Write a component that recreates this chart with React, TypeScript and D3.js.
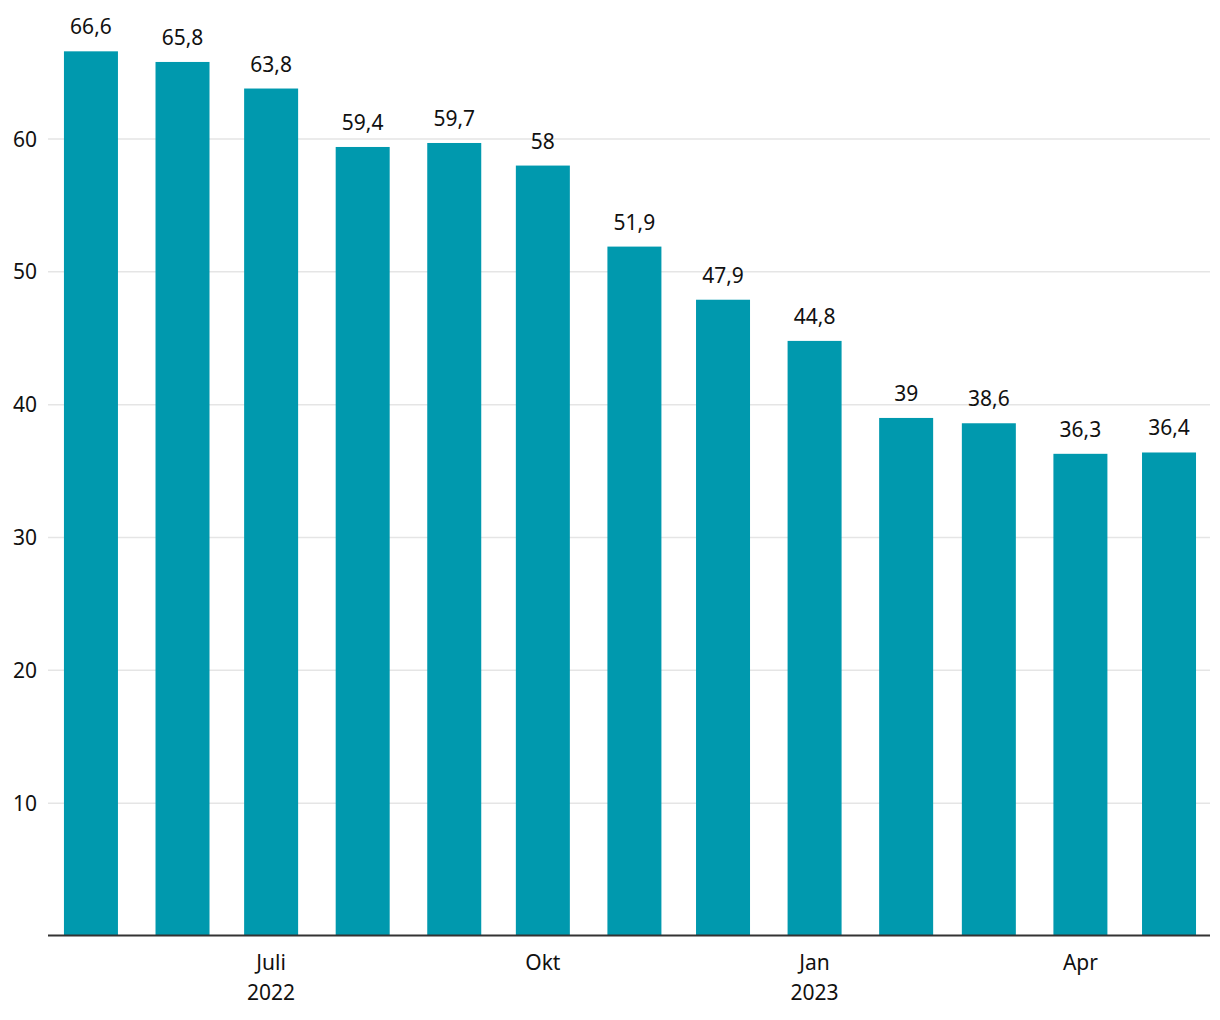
import React from "react";
import * as d3 from "d3";

const months: string[] = [
  "2022-05-01", "2022-06-01", "2022-07-01", "2022-08-01", "2022-09-01", "2022-10-01",
  "2022-11-01", "2022-12-01", "2023-01-01", "2023-02-01", "2023-03-01", "2023-04-01", "2023-05-01",
];
const values: number[] = [66.6, 65.8, 63.8, 59.4, 59.7, 58, 51.9, 47.9, 44.8, 39, 38.6, 36.3, 36.4];
const yTicks: number[] = [10, 20, 30, 40, 50, 60];
const xTicks: { date: string; lines: string[] }[] = [
  { date: "2022-07-01", lines: ["Juli", "2022"] },
  { date: "2022-10-01", lines: ["Okt"] },
  { date: "2023-01-01", lines: ["Jan", "2023"] },
  { date: "2023-04-01", lines: ["Apr"] },
];

const W = 1220;
const H = 1020;
const left = 48;
const right = 1210;
const baseY = 936;
const topY = 139; // y of 60

const font = "'Noto Sans', 'Open Sans', sans-serif";

export default function App() {
  const x = d3
    .scaleUtc()
    .domain([new Date(Date.UTC(2022, 3, 16, 11)), new Date(Date.UTC(2023, 4, 14, 21))])
    .range([left, right]);
  const y = d3.scaleLinear().domain([0, 60]).range([baseY, topY]);
  const barW = 54;
  const fmt = (v: number) => String(v).replace(".", ",");
  const parse = (s: string) => new Date(s + "T00:00:00Z");

  return (
    <svg
      width={W}
      height={H}
      style={{ position: "absolute", left: 0, top: 0, background: "#fff" }}
      fontFamily={font}
    >
      {yTicks.map((t) => (
        <g key={t}>
          <line x1={left} x2={right} y1={y(t)} y2={y(t)} stroke="#e5e5e5" strokeWidth={1.5} />
          <text x={37} y={y(t) + 7.5} textAnchor="end" fontSize={21} fill="#111">
            {t}
          </text>
        </g>
      ))}
      {months.map((m, i) => {
        const cx = x(parse(m));
        return (
          <g key={m}>
            <rect x={cx - barW / 2} y={y(values[i])} width={barW} height={baseY - y(values[i])} fill="#0099ae" />
            <text x={cx} y={y(values[i]) - 17} textAnchor="middle" fontSize={21} fill="#111">
              {fmt(values[i])}
            </text>
          </g>
        );
      })}
      <line x1={left} x2={right} y1={baseY - 0.5} y2={baseY - 0.5} stroke="#333" strokeWidth={2} />
      {xTicks.map((t) => (
        <text key={t.date} x={x(parse(t.date))} y={970} textAnchor="middle" fontSize={21} fill="#111">
          {t.lines.map((l, j) => (
            <tspan key={j} x={x(parse(t.date))} dy={j === 0 ? 0 : 30}>
              {l}
            </tspan>
          ))}
        </text>
      ))}
    </svg>
  );
}
